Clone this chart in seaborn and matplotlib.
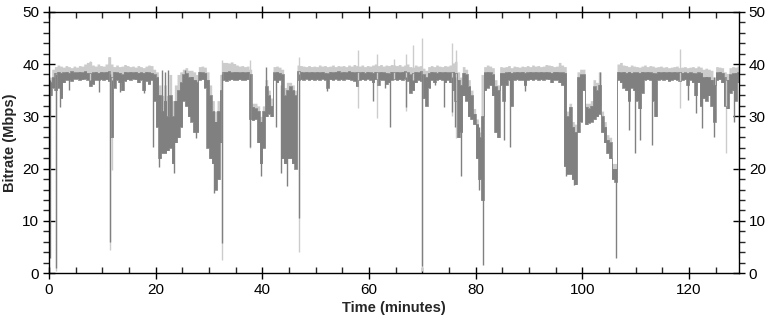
import numpy as np
import pandas as pd
import matplotlib
matplotlib.use("Agg")
import matplotlib.pyplot as plt
import seaborn as sns
from matplotlib.ticker import MultipleLocator

# half-minute bins, values (Mbps)
bin_step = 0.5

# dark series (average bitrate): lower / upper edge of each bin
avg_low = [
    34.0, 35.5, 35.0, 35.5, 33.5, 36.5, 37.0, 37.0, 36.8, 37.2,
    37.2, 37.0, 37.1, 37.2, 37.0, 35.8, 36.2, 37.0, 37.0, 37.1,
    37.0, 37.1, 36.8, 26.0, 35.5, 37.0, 36.5, 35.0, 36.8, 37.1,
    37.0, 37.2, 37.1, 36.5, 37.0, 35.0, 36.8, 36.2, 37.0, 33.0,
    28.0, 22.0, 23.0, 23.0, 23.5, 24.0, 21.0, 25.0, 26.0, 28.0,
    33.0, 32.0, 30.0, 29.0, 27.0, 27.0, 37.0, 37.1, 35.5, 24.0,
    22.0, 21.0, 16.0, 18.0, 25.0, 37.0, 36.8, 37.0, 37.1, 37.0,
    37.0, 37.1, 37.0, 37.0, 37.1, 29.5, 29.3, 29.5, 25.0, 21.0,
    24.0, 30.0, 30.5, 30.0, 37.0, 36.5, 37.0, 22.0, 21.0, 22.0,
    22.0, 21.0, 20.0, 37.0, 37.1, 37.0, 37.2, 37.0, 37.1, 37.0,
    37.1, 37.0, 37.2, 37.0, 35.5, 37.1, 37.0, 37.2, 37.0, 37.1,
    37.0, 37.2, 37.1, 37.0, 36.8, 35.8, 37.0, 37.1, 37.0, 37.2,
    37.0, 36.5, 37.1, 36.0, 37.0, 37.0, 36.2, 36.5, 37.0, 37.1,
    37.0, 37.1, 37.0, 37.2, 36.8, 34.5, 35.0, 36.5, 37.0, 36.8,
    33.5, 32.0, 35.5, 37.0, 36.5, 37.0, 37.1, 37.0, 36.5, 37.0,
    36.5, 35.0, 33.0, 26.0, 27.0, 34.0, 33.0, 30.0, 29.5, 28.5,
    22.0, 18.0, 14.0, 35.0, 35.5, 36.0, 34.0, 27.0, 26.0, 36.0,
    33.0, 36.0, 37.0, 32.0, 37.0, 37.1, 37.0, 37.0, 36.0, 37.0,
    37.1, 37.0, 37.2, 37.0, 37.1, 37.0, 37.2, 37.1, 36.5, 37.0,
    37.0, 36.5, 36.0, 20.5, 19.0, 19.0, 18.0, 17.0, 27.0, 29.0,
    35.0, 28.5, 28.8, 29.0, 29.5, 30.0, 30.5, 27.0, 25.0, 23.0,
    22.0, 18.0, 17.5, 37.0, 36.5, 35.5, 35.0, 33.0, 35.5, 35.0,
    33.0, 31.5, 34.5, 37.0, 37.1, 37.0, 33.0, 30.0, 37.0, 37.1,
    37.0, 37.1, 36.8, 37.0, 37.1, 37.0, 36.8, 37.0, 37.1, 36.0,
    37.0, 36.5, 34.0, 36.5, 32.0, 33.5, 33.0, 34.0, 32.0, 29.0,
    37.0, 37.1, 36.5, 32.0, 31.5, 34.5, 35.0, 33.0, 36.5, 37.0,
]
avg_high = [
    36.5, 37.5, 38.3, 38.5, 38.3, 38.4, 38.5, 38.3, 38.6, 38.4,
    38.4, 38.5, 38.4, 38.6, 38.3, 38.2, 38.4, 38.5, 38.3, 38.5,
    38.4, 38.5, 38.6, 37.5, 38.5, 38.4, 38.3, 38.0, 38.5, 38.4,
    38.5, 38.4, 38.5, 38.3, 38.4, 38.3, 38.5, 38.4, 38.3, 38.0,
    37.5, 34.0, 31.0, 33.0, 30.0, 34.0, 30.0, 33.0, 35.0, 36.5,
    38.0, 38.2, 37.5, 37.6, 37.0, 36.5, 38.5, 38.4, 38.3, 37.0,
    34.0, 31.0, 29.0, 31.0, 35.0, 38.5, 38.5, 38.6, 38.4, 38.5,
    38.5, 38.4, 38.5, 38.4, 38.5, 38.0, 31.8, 31.5, 31.0, 29.0,
    31.0, 35.7, 34.0, 32.0, 38.4, 38.5, 38.3, 38.0, 34.0, 35.0,
    35.7, 35.0, 34.0, 38.6, 38.5, 38.4, 38.5, 38.4, 38.5, 38.4,
    38.5, 38.4, 38.5, 38.3, 38.2, 38.5, 38.4, 38.5, 38.6, 38.4,
    38.5, 38.4, 38.6, 38.5, 38.4, 38.5, 38.4, 38.5, 38.3, 38.5,
    38.4, 38.3, 38.5, 38.4, 38.5, 38.4, 38.3, 38.2, 38.5, 38.4,
    38.5, 38.4, 38.5, 38.6, 38.4, 38.0, 38.3, 38.5, 38.4, 38.6,
    38.0, 37.5, 38.3, 38.5, 38.4, 38.3, 38.5, 38.4, 38.5, 38.4,
    38.4, 38.5, 38.3, 37.0, 36.0, 38.3, 38.0, 35.7, 34.0, 30.5,
    28.5, 26.0, 30.0, 38.4, 38.5, 38.4, 38.0, 35.7, 35.0, 38.3,
    38.3, 38.4, 38.5, 38.3, 38.4, 38.5, 38.4, 38.5, 38.3, 38.4,
    38.5, 38.4, 38.5, 38.4, 38.5, 38.4, 38.5, 38.4, 38.3, 38.5,
    38.5, 38.4, 38.4, 38.3, 30.0, 31.8, 28.0, 27.0, 37.5, 38.0,
    38.0, 31.8, 31.5, 32.0, 35.7, 35.0, 36.0, 30.0, 28.0, 25.5,
    25.0, 20.0, 20.0, 38.5, 38.4, 38.5, 38.3, 38.5, 38.3, 38.4,
    38.4, 38.3, 38.5, 38.4, 38.5, 38.4, 38.3, 38.2, 38.5, 38.4,
    38.5, 38.4, 38.5, 38.4, 38.5, 38.4, 38.5, 38.3, 38.4, 38.3,
    38.4, 38.3, 38.2, 38.4, 38.3, 37.5, 37.6, 37.5, 37.0, 36.0,
    38.4, 38.5, 38.3, 37.5, 37.0, 38.0, 38.2, 38.3, 38.4, 38.5,
]
# light series (peak bitrate): upper edge of each bin
peak_high = [
    37.5, 39.0, 39.5, 39.8, 39.6, 39.4, 39.7, 39.5, 39.3, 39.6,
    39.4, 39.7, 39.6, 40.0, 40.3, 40.5, 39.8, 39.6, 40.0, 39.7,
    39.6, 40.0, 41.4, 40.0, 39.5, 39.8, 39.5, 39.6, 39.9, 39.7,
    39.5, 39.6, 39.4, 39.7, 39.5, 39.3, 39.6, 39.8, 39.7, 39.0,
    38.5, 36.0, 34.0, 36.0, 34.0, 38.0, 33.0, 36.0, 38.0, 38.5,
    39.0, 39.3, 38.8, 38.8, 38.5, 38.0, 39.5, 39.6, 39.4, 38.5,
    36.0, 33.0, 31.0, 33.0, 38.0, 40.3, 40.3, 40.2, 40.4, 40.1,
    39.8, 39.6, 39.7, 39.5, 39.6, 39.0, 32.5, 32.5, 32.0, 30.0,
    32.0, 37.0, 35.0, 33.5, 39.5, 39.6, 39.4, 39.0, 35.5, 36.5,
    36.5, 36.0, 35.0, 39.8, 39.7, 39.6, 39.5, 39.7, 39.5, 39.6,
    39.5, 39.8, 39.6, 39.7, 39.5, 39.6, 39.8, 39.5, 39.7, 39.6,
    39.7, 39.5, 39.8, 39.6, 39.9, 39.7, 39.6, 39.8, 39.5, 39.7,
    39.6, 39.8, 40.0, 39.7, 39.9, 39.6, 39.8, 39.7, 39.9, 39.8,
    39.7, 39.9, 39.6, 39.8, 40.0, 39.5, 39.4, 39.8, 39.6, 39.7,
    39.2, 38.8, 39.5, 39.7, 39.5, 39.8, 39.6, 39.5, 39.7, 39.6,
    39.8, 40.2, 40.5, 38.5, 37.5, 39.5, 39.0, 37.0, 35.0, 31.5,
    29.5, 27.0, 38.0, 39.5, 39.8, 39.6, 39.3, 37.0, 36.0, 39.5,
    39.4, 39.5, 39.7, 39.3, 39.6, 39.5, 39.4, 39.6, 39.5, 39.7,
    39.5, 39.8, 39.6, 39.7, 39.5, 39.6, 39.9, 39.8, 39.7, 39.5,
    39.6, 40.3, 39.8, 39.5, 31.0, 32.5, 29.0, 28.5, 38.5, 39.0,
    39.0, 32.5, 32.5, 33.0, 37.0, 36.5, 38.5, 31.0, 29.0, 26.5,
    26.0, 21.0, 21.0, 40.0, 40.3, 39.8, 39.7, 39.5, 39.8, 39.6,
    39.5, 39.4, 39.6, 39.8, 39.5, 39.7, 39.6, 39.4, 39.5, 39.6,
    39.4, 39.5, 39.3, 39.4, 39.5, 39.6, 39.3, 39.4, 39.5, 39.3,
    39.4, 39.5, 39.3, 39.6, 39.4, 39.0, 39.2, 39.0, 38.8, 37.5,
    39.5, 39.4, 39.3, 38.5, 38.2, 39.3, 39.5, 39.4, 39.6, 39.5,
]

# narrow excursions of the average series: time, bottom, top
avg_spike_t = [0.1, 1.3, 2.1, 3.8, 9.3, 11.4, 11.8, 13.4, 17.9, 19.5, 20.7,
               21.1, 21.7, 22.3, 23.4, 25.5, 27.6, 30.9, 32.4, 37.75, 39.7,
               40.6, 42.6, 43.5, 44.6, 46.8, 52.1, 60.7, 63.0, 63.9, 67.0,
               69.9, 72.4, 74.0, 75.6, 76.2, 77.2, 80.6, 81.3, 85.3, 86.5,
               89.2, 97.0, 98.4, 103.4, 106.4, 108.7, 109.8, 110.9, 113.0,
               119.8, 121.4, 122.5, 124.7, 128.4]
avg_spike_lo = [3.0, 1.0, 31.8, 35.0, 34.7, 6.0, 26.0, 34.7, 34.4, 24.2, 20.4,
                30.0, 30.0, 30.0, 19.1, 34.0, 25.8, 15.3, 5.7, 24.2, 18.5,
                33.0, 28.0, 19.1, 16.6, 10.5, 34.8, 33.0, 35.4, 28.0, 31.8,
                1.3, 36.0, 31.8, 30.9, 28.0, 18.5, 15.9, 1.6, 25.5, 24.2,
                34.8, 18.5, 16.8, 32.0, 2.9, 27.4, 23.0, 25.5, 24.5,
                33.1, 30.6, 27.7, 26.0, 29.0]
avg_spike_hi = [37.0, 38.0, 37.0, 37.5, 37.5, 38.0, 37.0, 37.5, 37.5, 38.0, 34.0,
                38.8, 38.5, 38.8, 30.0, 38.8, 37.0, 29.0, 38.0, 38.0, 28.0,
                39.5, 38.0, 36.0, 34.0, 38.0, 37.5, 37.5, 37.5, 37.5, 37.5,
                38.0, 37.5, 37.5, 37.5, 37.5, 30.0, 28.0, 30.0, 37.5, 37.5,
                37.5, 25.0, 25.0, 38.5, 20.0, 37.5, 37.5, 37.5, 37.5,
                37.5, 37.5, 37.5, 37.5, 37.5]
# narrow excursions of the peak series
peak_spike_t = [1.3, 7.7, 11.4, 11.8, 32.4, 37.75, 46.8, 57.9, 61.5, 64.6,
                67.0, 68.2, 69.9, 75.6, 76.4, 118.4, 126.9, 129.3]
peak_spike_lo = [0.5, 37.0, 4.5, 19.7, 2.5, 24.0, 4.1, 31.5, 29.6, 37.0,
                 31.0, 37.0, 0.5, 30.0, 25.8, 31.5, 22.9, 3.0]
peak_spike_hi = [39.0, 40.5, 41.4, 38.0, 40.8, 40.8, 41.4, 42.7, 42.0, 41.0,
                 42.0, 43.6, 44.9, 44.0, 42.7, 42.8, 38.0, 38.0]

dark = "#808080"
light = "#cccccc"

df = pd.DataFrame({"t": np.arange(len(avg_low)) * bin_step,
                   "low": avg_low, "high": avg_high, "peak": peak_high})

sns.set_theme(style="ticks")
plt.rcParams["font.family"] = ["Liberation Sans", "DejaVu Sans"]

fig = plt.figure(figsize=(7.71, 3.2), dpi=100)
ax = fig.add_axes([0.0636, 0.146, 0.895, 0.8175])

# peak band (light) behind the average band (dark)
ax.fill_between(df["t"], df["low"], df["peak"], step="post", color=light, lw=0)
ax.vlines(peak_spike_t, peak_spike_lo, peak_spike_hi, color=light, lw=1)
ax.fill_between(df["t"], df["low"], df["high"], step="post", color=dark, lw=0)
sns.lineplot(data=df, x="t", y="high", ax=ax, color=dark, lw=0.5,
             drawstyle="steps-post")
sns.lineplot(data=df, x="t", y="low", ax=ax, color=dark, lw=0.5,
             drawstyle="steps-post")
ax.vlines(avg_spike_t, avg_spike_lo, avg_spike_hi, color=dark, lw=1)

ax.set_xlim(0, 129.4)
ax.set_ylim(0, 50)
ax.xaxis.set_major_locator(MultipleLocator(20))
ax.xaxis.set_minor_locator(MultipleLocator(5))
ax.yaxis.set_major_locator(MultipleLocator(10))
ax.yaxis.set_minor_locator(MultipleLocator(2))

ax.tick_params(which="major", direction="inout", length=8, width=1,
               colors="black", labelsize=11, top=True, right=True,
               labelright=True, pad=3)
ax.tick_params(axis="x", which="minor", direction="in", length=4, width=1,
               top=True)
ax.tick_params(axis="y", which="minor", direction="out", length=4, width=1,
               right=True)
for s in ax.spines.values():
    s.set_visible(True)
    s.set_color("black")
    s.set_linewidth(1)

ax.set_xlabel("Time (minutes)", fontsize=10.5, fontweight="bold", labelpad=3)
ax.set_ylabel("Bitrate (Mbps)", fontsize=10.5, fontweight="bold", labelpad=4)

fig.savefig("out.png", dpi=100)
